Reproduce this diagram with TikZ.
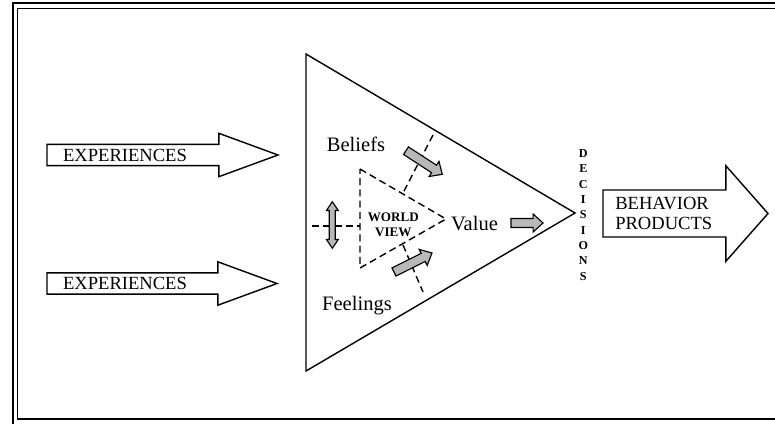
\documentclass[tikz,border=0pt]{standalone}
\usepackage{fontspec}
\setmainfont{Liberation Serif}
\usetikzlibrary{calc}
% block arrow: style, from, to, half shaft, half head, head length
\newcommand{\blockarr}[6]{%
  \coordinate (hb) at ($(#3)!#6!(#2)$);
  \draw[#1] ($(#2)!#4!90:(#3)$) -- ($(hb)!#4!90:(#3)$) -- ($(hb)!#5!90:(#3)$) -- (#3)
    -- ($(hb)!#5!-90:(#3)$) -- ($(hb)!#4!-90:(#3)$) -- ($(#2)!#4!-90:(#3)$) -- cycle;}

\begin{document}
\begin{tikzpicture}[x=0.025cm, y=-0.025cm, line join=miter,
  frameline/.style={line width=1.4pt},
  bigarrow/.style={line width=1pt, fill=white},
  grayarrow/.style={line width=0.8pt, fill=black!28},
  wvdash/.style={line width=1pt, dash pattern=on 5pt off 3pt},
  lbl/.style={inner sep=0pt, font=\fontsize{14.6}{16}\selectfont}]
  \useasboundingbox (0,0) rectangle (775,423);
  \clip (0,0) rectangle (775,423);
  % double frame, cut off on the right
  \draw[frameline] (790,3) -- (13,3) -- (13,440);
  \draw[frameline] (790,8.5) -- (17.5,8.5) -- (17.5,419) -- (790,419);
  % big triangle
  \coordinate (ttop) at (306,54);
  \coordinate (ttip) at (575,213);
  \coordinate (tbot) at (306,371);
  \draw[line width=1pt] (ttop) -- (ttip) -- (tbot) -- cycle;
  % experiences
  \coordinate (ex1s) at (47,155);  \coordinate (ex1e) at (278,155);
  \coordinate (ex2s) at (47,283.5); \coordinate (ex2e) at (277,283.5);
  \blockarr{bigarrow}{ex1s}{ex1e}{7.6pt}{15.4pt}{42pt}
  \blockarr{bigarrow}{ex2s}{ex2e}{7.6pt}{15.4pt}{42pt}
  \node[inner sep=0pt, font=\fontsize{13.2}{14.2}\selectfont] (exp1) at (125,155) {EXPERIENCES};
  \node[inner sep=0pt, font=\fontsize{13.2}{14.2}\selectfont] (exp2) at (125,283) {EXPERIENCES};
  % behavior
  \coordinate (bhs) at (603,213.5); \coordinate (bhe) at (768,213.5);
  \blockarr{bigarrow}{bhs}{bhe}{16.7pt}{34pt}{30pt}
  \node[inner sep=0pt, anchor=west, align=left, font=\fontsize{13.2}{14.2}\selectfont]
    (behav) at (615,213) {BEHAVIOR\\PRODUCTS};
  % decisions
  \node[inner sep=0pt, align=center, font=\fontsize{8.6}{10.9}\selectfont\bfseries]
    (decis) at (583.3,215) {D\\E\\C\\I\\S\\I\\O\\N\\S};
  % world view triangle
  \coordinate (wvtop) at (360,169);
  \coordinate (wvtip) at (446,219);
  \coordinate (wvbot) at (360,268);
  \draw[wvdash] (wvtop) -- (wvtip) -- (wvbot) -- cycle;
  \coordinate (wvl1) at (312,226); \coordinate (wvl2) at (360,226);
  \coordinate (wvb1) at (433,135); \coordinate (wvb2) at (403,193);
  \coordinate (wvf1) at (403,245); \coordinate (wvf2) at (423,292);
  \draw[wvdash] (wvl1) -- (wvl2);
  \draw[wvdash] (wvb1) -- (wvb2);
  \draw[wvdash] (wvf1) -- (wvf2);
  \node[inner sep=0pt, align=center, font=\fontsize{9.3}{11.2}\selectfont\bfseries]
    (wview) at (393.3,224.7) {WORLD\\VIEW};
  % labels
  \node[lbl, anchor=base] (beliefs) at (356,151) {Beliefs};
  \node[lbl, anchor=base] (value) at (474.5,230) {Value};
  \node[lbl, anchor=base] (feelings) at (357,310) {Feelings};
  % gray arrows
  \coordinate (ba1) at (406,150.7); \coordinate (ba2) at (442.3,174.3);
  \coordinate (fa1) at (394,272);   \coordinate (fa2) at (432,253);
  \coordinate (va1) at (511,223);   \coordinate (va2) at (543,223);
  \blockarr{grayarrow}{ba1}{ba2}{3.2pt}{6.4pt}{7pt}
  \blockarr{grayarrow}{fa1}{fa2}{3.2pt}{6.4pt}{7pt}
  \blockarr{grayarrow}{va1}{va2}{3.2pt}{6.4pt}{7pt}
  % up-down arrow
  \draw[grayarrow] (329.3,210.5) -- (326.5,210.5) -- (332.3,201.7) -- (338.3,210.5)
    -- (335.3,210.5) -- (335.3,239.5) -- (338.3,239.5) -- (332.3,248.3)
    -- (326.5,239.5) -- (329.3,239.5) -- cycle;
\end{tikzpicture}
\end{document}
